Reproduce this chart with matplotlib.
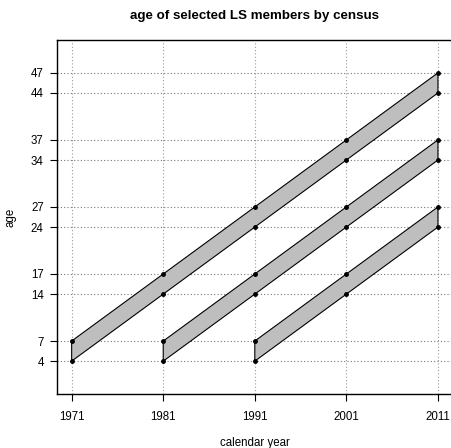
import matplotlib
matplotlib.use('Agg')
import matplotlib.pyplot as plt

# census years and y ticks
census_years = [1971, 1981, 1991, 2001, 2011]
age_ticks = [4, 7, 14, 17, 24, 27, 34, 37, 44, 47]

# each band: census years covered, youngest age and oldest age at each census
band_years = [
    [1971, 1981, 1991, 2001, 2011],
    [1981, 1991, 2001, 2011],
    [1991, 2001, 2011],
]
band_low = [
    [4, 14, 24, 34, 44],
    [4, 14, 24, 34],
    [4, 14, 24],
]
band_high = [
    [7, 17, 27, 37, 47],
    [7, 17, 27, 37],
    [7, 17, 27],
]

plt.rcParams['font.family'] = ['Liberation Sans', 'DejaVu Sans']

fig = plt.figure(figsize=(4.51, 4.48), dpi=100)
ax = fig.add_axes([57 / 451, 54 / 448, (452.6 - 57) / 451, (394 - 40) / 448])

for x in census_years:
    ax.axvline(x, color='#999999', lw=0.8, ls=(0, (1, 2)), zorder=0)
for y in age_ticks:
    ax.axhline(y, color='#777777', lw=0.8, ls=(0, (1, 2)), zorder=0)

for yrs, lo, hi in zip(band_years, band_low, band_high):
    xs = yrs + yrs[::-1]
    ys = lo + hi[::-1]
    ax.fill(xs, ys, facecolor='#BEBEBE', edgecolor='black', lw=0.8, zorder=2)
    ax.plot(yrs, lo, 'o', color='black', ms=2.5, zorder=3)
    ax.plot(yrs, hi, 'o', color='black', ms=2.5, zorder=3)

ax.set_xlim(1969.4, 2012.6)
ax.set_ylim(-0.9, 51.9)
ax.set_xticks(census_years)
ax.set_yticks(age_ticks)
ax.tick_params(direction='out', length=5, width=0.8, labelsize=8.3)
ax.tick_params(axis='x', pad=7)
ax.tick_params(axis='y', pad=4.5)
for s in ax.spines.values():
    s.set_linewidth(1.0)

ax.set_xlabel('calendar year', fontsize=8.3, labelpad=10)
ax.set_ylabel('age', fontsize=8.3, labelpad=10)
ax.set_title('age of selected LS members by census', fontsize=9.6,
             fontweight='bold', pad=15)

fig.savefig('out.png', dpi=100)
